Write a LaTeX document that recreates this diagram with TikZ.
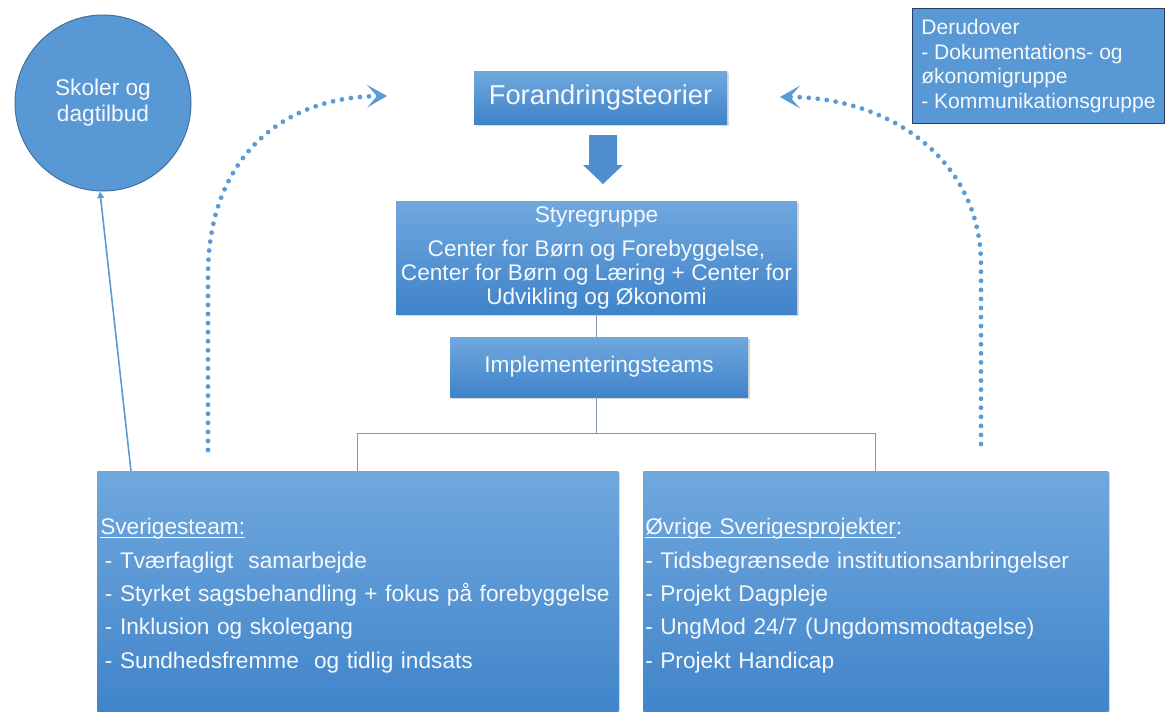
\documentclass[tikz,border=0pt]{standalone}
\usepackage{fontspec}
\setmainfont{Liberation Sans}
\usetikzlibrary{arrows.meta,shadows}
\definecolor{boxtop}{RGB}{112,168,222}
\definecolor{boxbottom}{RGB}{63,131,201}
\definecolor{circfill}{RGB}{88,152,212}
\definecolor{circedge}{RGB}{65,113,156}
\definecolor{noteedge}{RGB}{40,62,100}
\definecolor{dotblue}{RGB}{91,155,213}
\definecolor{connline}{RGB}{128,150,178}
\definecolor{textwhite}{RGB}{245,248,252}
\newcommand{\ulinetext}[1]{\setbox0\hbox{#1}\rlap{\rule[-2.4pt]{\wd0}{0.8pt}}\box0}
\begin{document}
\begin{tikzpicture}[
    x=0.75pt, y=-0.75pt,
    every node/.style={text=textwhite, font=\fontsize{17}{18}\selectfont},
    gradbox/.style={rectangle, top color=boxtop, bottom color=boxbottom, draw=none,
        drop shadow={opacity=0.3, shadow xshift=1.5pt, shadow yshift=-1.5pt}},
    listbox/.style={gradbox, align=left, anchor=north west, minimum height=186.75pt,
        font=\fontsize{17}{25}\selectfont},
    conn/.style={draw=connline, line width=0.75pt},
    blockfill/.style={fill=boxbottom!70!boxtop},
    dotarrow/.style={draw=dotblue, line width=3.6pt, line cap=round, dash pattern=on 0pt off 6.8pt,
        -{Stealth[length=15pt, width=17pt, inset=7.5pt]}},
    thinarrow/.style={draw=dotblue, line width=1.2pt, -{Triangle[length=5pt, width=5pt]}}
]
    \useasboundingbox (0,0) rectangle (1167,711);
    \clip (0,0) rectangle (1167,711);

    % top row
    \node[circle, fill=circfill, draw=circedge, line width=0.75pt, minimum size=132pt,
        align=center, font=\fontsize{17}{19.5}\selectfont] (skoler) at (103,103) {Skoler og\\dagtilbud};
    \node[gradbox, minimum width=189.75pt, minimum height=39.75pt,
        font=\fontsize{20.5}{24}\selectfont] (forand) at (600.5,97.5) {Forandringsteorier};
    \node[rectangle, fill=circfill, draw=noteedge, line width=1pt, anchor=north west,
        minimum height=86.25pt, inner xsep=6.5pt, align=left,
        font=\fontsize{15.8}{18.4}\selectfont] (derud) at (912,8)
        {Derudover\\- Dokumentations- og\\økonomigruppe\\- Kommunikationsgruppe};

    % block arrow
    \coordinate (piltop) at (603,135);
    \fill[blockfill] (piltop) ++(-14,0) -- ++(28,0) -- ++(0,30) -- ++(6,0)
        -- ++(-20,19) -- ++(-20,-19) -- ++(6,0) -- cycle;

    % middle
    \node[gradbox, minimum width=300.75pt, minimum height=84.75pt, inner xsep=2pt,
        align=center] (styre) at (596.5,257.5)
        {Styregruppe\\[7.5pt]Center for Børn og Forebyggelse,\\Center for Børn og Læring + Center for\\Udvikling og Økonomi};
    \node[gradbox, minimum width=223.5pt, minimum height=45pt] (impl) at (599,367) {Implementeringsteams};

    % bottom boxes
    \node[listbox, text width=386.25pt, inner xsep=2.25pt] (sveb) at (97,471)
        {\ulinetext{Sverigesteam:}\\
         \hspace*{3.5pt}- Tværfagligt\ \ samarbejde\\
         \hspace*{3.5pt}- Styrket sagsbehandling + fokus på forebyggelse\\
         \hspace*{3.5pt}- Inklusion og skolegang\\
         \hspace*{3.5pt}- Sundhedsfremme\ \ og tidlig indsats};
    \node[listbox, text width=345.75pt, inner xsep=1.5pt] (ovrb) at (643,471)
        {\ulinetext{Øvrige Sverigesprojekter}:\\
         - Tidsbegrænsede institutionsanbringelser\\
         - Projekt Dagpleje\\
         - UngMod 24/7 (Ungdomsmodtagelse)\\
         - Projekt Handicap};

    % connectors
    \draw[conn] (styre.south) -- (styre.south |- impl.north);
    \draw[conn] (impl.south -| styre.south) -- ++(0,36) coordinate (fork);
    \draw[conn] (sveb.north) |- (fork) -| (ovrb.north);

    \coordinate (svefoot) at (131,471);
    \draw[thinarrow] (svefoot) -- (skoler.-92);

    \coordinate (ldot) at (208,450);
    \coordinate (ltip) at (387,96);
    \coordinate (rdot) at (981,444);
    \coordinate (rtip) at (780,97);
    \draw[dotarrow] (ldot) -- (208,275) .. controls (208,160) and (280,97) .. (ltip);
    \draw[dotarrow] (rdot) -- (981,265) .. controls (981,160) and (890,97) .. (rtip);
\end{tikzpicture}
\end{document}
